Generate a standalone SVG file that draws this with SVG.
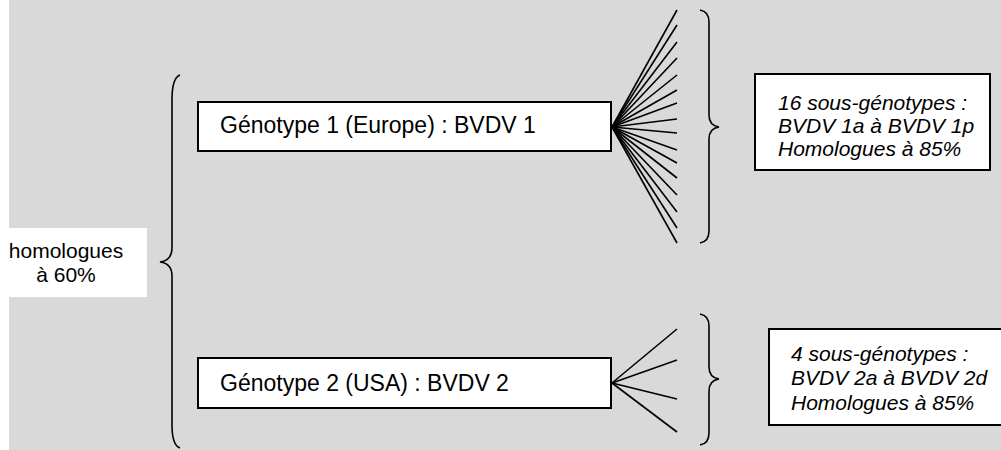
<svg xmlns="http://www.w3.org/2000/svg" width="1001" height="450" viewBox="0 0 1001 450">
  <style>
    .box { fill: #ffffff; stroke: #000000; stroke-width: 2; }
    .lbl { font-family: "Liberation Sans", Arial, sans-serif; font-size: 23px; fill: #000000; }
    .side { font-family: "Liberation Sans", Arial, sans-serif; font-size: 21px; fill: #000000; text-anchor: middle; }
    .it { font-family: "Liberation Sans", Arial, sans-serif; font-size: 21px; font-style: italic; fill: #000000; }
    .fan line { stroke: #000000; stroke-width: 1.6; }
    .brace { fill: none; stroke: #000000; stroke-width: 1.6; }
  </style>
  <rect x="0" y="0" width="1001" height="450" fill="#ffffff"/>
  <rect x="9" y="0" width="992" height="450" fill="#d9d9d9"/>

  <g id="homologues60">
    <rect x="9" y="228" width="138" height="69" fill="#ffffff"/>
    <text class="side" x="66" y="258">homologues</text>
    <text class="side" x="66" y="282">à 60%</text>
  </g>

  <g id="genotype1">
    <rect class="box" x="198" y="102" width="413" height="49"/>
    <text class="lbl" x="220" y="133">Génotype 1 (Europe) : BVDV 1</text>
  </g>

  <g id="genotype2">
    <rect class="box" x="198" y="358" width="413" height="50"/>
    <text class="lbl" x="220" y="391">Génotype 2 (USA) : BVDV 2</text>
  </g>

  <g id="sous1">
    <rect class="box" x="755" y="74" width="235" height="96"/>
    <text class="it" x="778" y="110">16 sous-génotypes :</text>
    <text class="it" x="778" y="133">BVDV 1a à BVDV 1p</text>
    <text class="it" x="778" y="156">Homologues à 85%</text>
  </g>

  <g id="sous2">
    <rect class="box" x="769" y="329" width="240" height="96"/>
    <text class="it" x="791" y="361">4 sous-génotypes :</text>
    <text class="it" x="791" y="385">BVDV 2a à BVDV 2d</text>
    <text class="it" x="791" y="410">Homologues à 85%</text>
  </g>

  <g id="connectors">
    <path class="brace" d="M180,75 C174,77 172,88 172,100 L172,248 C172,256 168,261 160,262 C168,263 172,268 172,276 L172,425 C172,437 174,446 180,448"/>
    <path class="brace" d="M700,10 C706,11 709,15 709,22 L709,115 C709,122 712,126 719,127 C712,128 709,132 709,139 L709,231 C709,238 706,242 700,243"/>
    <path class="brace" d="M700,314 C706,315 709,319 709,326 L709,367 C709,374 712,378 719,379 C712,380 709,384 709,391 L709,433 C709,440 706,444 700,445"/>
    <g class="fan">
      <line x1="612" y1="127" x2="677" y2="10"/>
      <line x1="612" y1="127" x2="677" y2="25"/>
      <line x1="612" y1="127" x2="677" y2="42"/>
      <line x1="612" y1="127" x2="677" y2="58"/>
      <line x1="612" y1="127" x2="677" y2="75"/>
      <line x1="612" y1="127" x2="677" y2="90"/>
      <line x1="612" y1="127" x2="677" y2="103"/>
      <line x1="612" y1="127" x2="677" y2="119"/>
      <line x1="612" y1="127" x2="677" y2="133"/>
      <line x1="612" y1="127" x2="677" y2="150"/>
      <line x1="612" y1="127" x2="677" y2="163"/>
      <line x1="612" y1="127" x2="677" y2="178"/>
      <line x1="612" y1="127" x2="677" y2="195"/>
      <line x1="612" y1="127" x2="677" y2="212"/>
      <line x1="612" y1="127" x2="677" y2="228"/>
      <line x1="612" y1="127" x2="677" y2="243"/>
    </g>
    <g class="fan">
      <line x1="612" y1="383" x2="677" y2="329"/>
      <line x1="612" y1="383" x2="677" y2="360"/>
      <line x1="612" y1="383" x2="677" y2="399"/>
      <line x1="612" y1="383" x2="677" y2="432"/>
    </g>
  </g>
</svg>
